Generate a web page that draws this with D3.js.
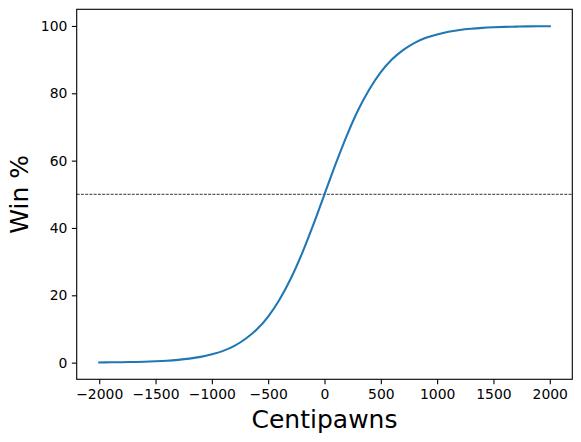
<!DOCTYPE html>
<html><head><meta charset="utf-8">
<script src="https://cdn.jsdelivr.net/npm/d3@7"></script>
<style>body{margin:0;background:#fff}svg{display:block}text{font-family:"DejaVu Sans",sans-serif;fill:#000}</style>
</head><body>
<script>
// Centipawn values (x) and win %
const centipawns = [-2000,-1900,-1800,-1700,-1600,-1500,-1400,-1300,-1200,-1100,-1000,-900,-800,-700,-600,-500,-400,-300,-200,-100,0,100,200,300,400,500,600,700,800,900,1000,1100,1200,1300,1400,1500,1600,1700,1800,1900,2000];
const winPct = [0.06,0.09,0.13,0.19,0.28,0.40,0.57,0.83,1.19,1.71,2.5,3.5,5.0,7.1,9.9,13.7,18.7,24.9,32.4,40.9,50,59.1,67.6,75.1,81.3,86.3,90.1,92.9,95.0,96.5,97.5,98.29,98.81,99.17,99.43,99.60,99.72,99.81,99.87,99.91,99.94];
const xTicks = [-2000,-1500,-1000,-500,0,500,1000,1500,2000];
const yTicks = [0,20,40,60,80,100];
const refLine = 50;

const W=581,H=442;
const L=76.7,T=9.3,PW=495.6,PH=370;
const svg=d3.select("body").append("svg").attr("width",W).attr("height",H);
const x=d3.scaleLinear().domain([-2200,2200]).range([L,L+PW]);
const y=d3.scaleLinear().domain([-4.95,104.95]).range([T+PH,T]);

const fmt=d3.format("d");
const xa=svg.append("g").attr("transform",`translate(0,${T+PH})`)
  .call(d3.axisBottom(x).tickValues(xTicks).tickFormat(fmt).tickSize(4.86).tickPadding(4.5).tickSizeOuter(0));
const ya=svg.append("g").attr("transform",`translate(${L},0)`)
  .call(d3.axisLeft(y).tickValues(yTicks).tickFormat(fmt).tickSize(4.86).tickPadding(4.5).tickSizeOuter(0));
[xa,ya].forEach(a=>{a.select(".domain").remove();a.selectAll("line").attr("stroke","#000").attr("stroke-width",1.1);
  a.selectAll("text").attr("font-size","13.9px").attr("font-family","DejaVu Sans").attr("fill","#000");});

svg.append("line").attr("x1",L).attr("x2",L+PW).attr("y1",y(refLine)).attr("y2",y(refLine))
  .attr("stroke","#000").attr("stroke-width",1.1*0.727).attr("stroke-dasharray","2.96,1.28");

const data=centipawns.map((c,i)=>[c,winPct[i]]);
svg.append("path").datum(data).attr("fill","none").attr("stroke","#1f77b4").attr("stroke-width",2.08)
  .attr("stroke-linejoin","round").attr("stroke-linecap","square")
  .attr("d",d3.line().x(d=>x(d[0])).y(d=>y(d[1])).curve(d3.curveMonotoneX));

svg.append("rect").attr("x",L).attr("y",T).attr("width",PW).attr("height",PH)
  .attr("fill","none").attr("stroke","#000").attr("stroke-width",1.1);

svg.append("text").attr("x",L+PW/2).attr("y",428).attr("text-anchor","middle").attr("font-size","25px").text("Centipawns");
svg.append("text").attr("transform",`translate(27.5,${T+PH/2}) rotate(-90)`).attr("text-anchor","middle").attr("font-size","25px").text("Win %");
</script>
</body></html>
